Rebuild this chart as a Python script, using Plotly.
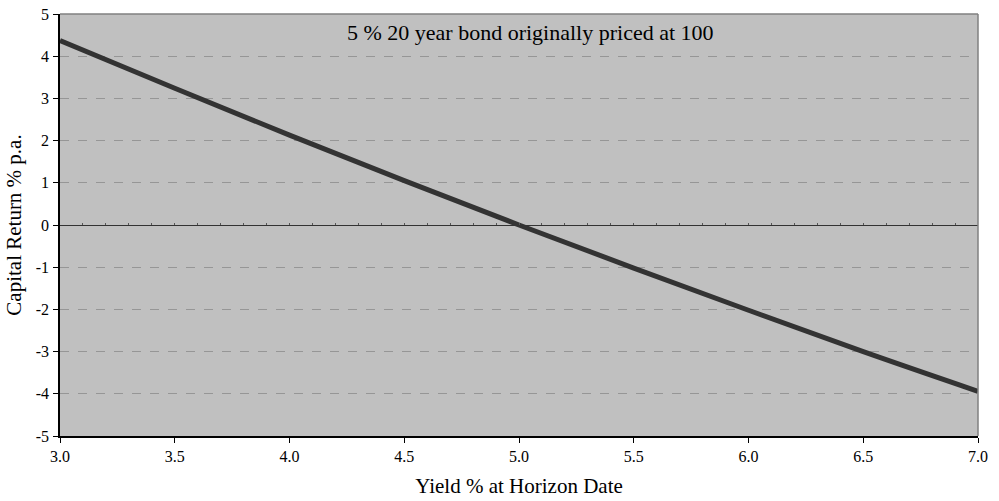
import plotly.graph_objects as go

# Yield at horizon date (%) and the resulting annualised capital return (%)
yields = [3.0, 3.5, 4.0, 4.5, 5.0, 5.5, 6.0, 6.5, 7.0]
capital_return = [4.37, 3.24, 2.13, 1.05, 0.0, -1.02, -2.02, -3.00, -3.94]

x_ticks = [3.0, 3.5, 4.0, 4.5, 5.0, 5.5, 6.0, 6.5, 7.0]
x_tick_text = ["3.0", "3.5", "4.0", "4.5", "5.0", "5.5", "6.0", "6.5", "7.0"]
y_ticks = [-5, -4, -3, -2, -1, 0, 1, 2, 3, 4, 5]
y_tick_text = ["-5", "-4", "-3", "-2", "-1", "0", "1", "2", "3", "4", "5"]

font_family = "Liberation Serif, Times New Roman, serif"
tick_font = dict(family=font_family, size=16, color="black")
title_font = dict(family=font_family, size=21, color="black")

fig = go.Figure()
fig.add_trace(go.Scatter(
    x=yields, y=capital_return, mode="lines",
    line=dict(color="#333333", width=5, shape="spline"),
    showlegend=False, hoverinfo="x+y",
))

# invisible trace so the y = 0 axis is drawn
fig.add_trace(go.Scatter(x=[3.0], y=[0], xaxis="x2", mode="markers",
                         marker=dict(opacity=0), showlegend=False, hoverinfo="skip"))

fig.update_layout(
    template="none",
    width=999, height=501,
    margin=dict(l=60, r=21, t=14, b=65),
    paper_bgcolor="white", plot_bgcolor="#c0c0c0",
    font=dict(family=font_family, size=16, color="black"),
    xaxis=dict(
        range=[3.0, 7.0], tickmode="array", tickvals=x_ticks, ticktext=x_tick_text,
        ticks="outside", ticklen=5, tickcolor="black", tickwidth=1,
        showline=True, linecolor="black", linewidth=1.5,
        showgrid=False, zeroline=False,
        title=dict(text="Yield % at Horizon Date", font=title_font, standoff=14),
        tickfont=tick_font,
    ),
    # axis line drawn through y = 0, with small ticks every 0.1
    xaxis2=dict(
        range=[3.0, 7.0], overlaying="x", anchor="free", position=0.5,
        dtick=0.1, tick0=3.0, ticks="inside", ticklen=2, tickcolor="#555555",
        showticklabels=False, showline=True, linecolor="#333333", linewidth=1.2,
        showgrid=False, zeroline=False,
    ),
    yaxis=dict(
        range=[-5, 5], tickmode="array", tickvals=y_ticks, ticktext=y_tick_text,
        ticks="outside", ticklen=5, tickcolor="black", tickwidth=1,
        showline=True, linecolor="black", linewidth=1.5,
        showgrid=True, gridcolor="#969696", griddash="dash", gridwidth=1,
        zeroline=False, ticklabelstandoff=1,
        title=dict(text="Capital Return % p.a.", font=title_font, standoff=8),
        tickfont=tick_font,
    ),
    annotations=[dict(
        text="5 % 20 year bond originally priced at 100",
        xref="paper", yref="paper", x=0.512, y=0.955,
        showarrow=False, font=dict(family=font_family, size=22, color="black"),
        xanchor="center", yanchor="middle",
    )],
    shapes=[
        dict(type="line", xref="paper", yref="paper", x0=0, x1=1, y0=1, y1=1,
             line=dict(color="#808080", width=1.5)),
        dict(type="line", xref="paper", yref="paper", x0=1, x1=1, y0=0, y1=1,
             line=dict(color="#808080", width=1.5)),
    ],
)

fig.write_html("out.html")
